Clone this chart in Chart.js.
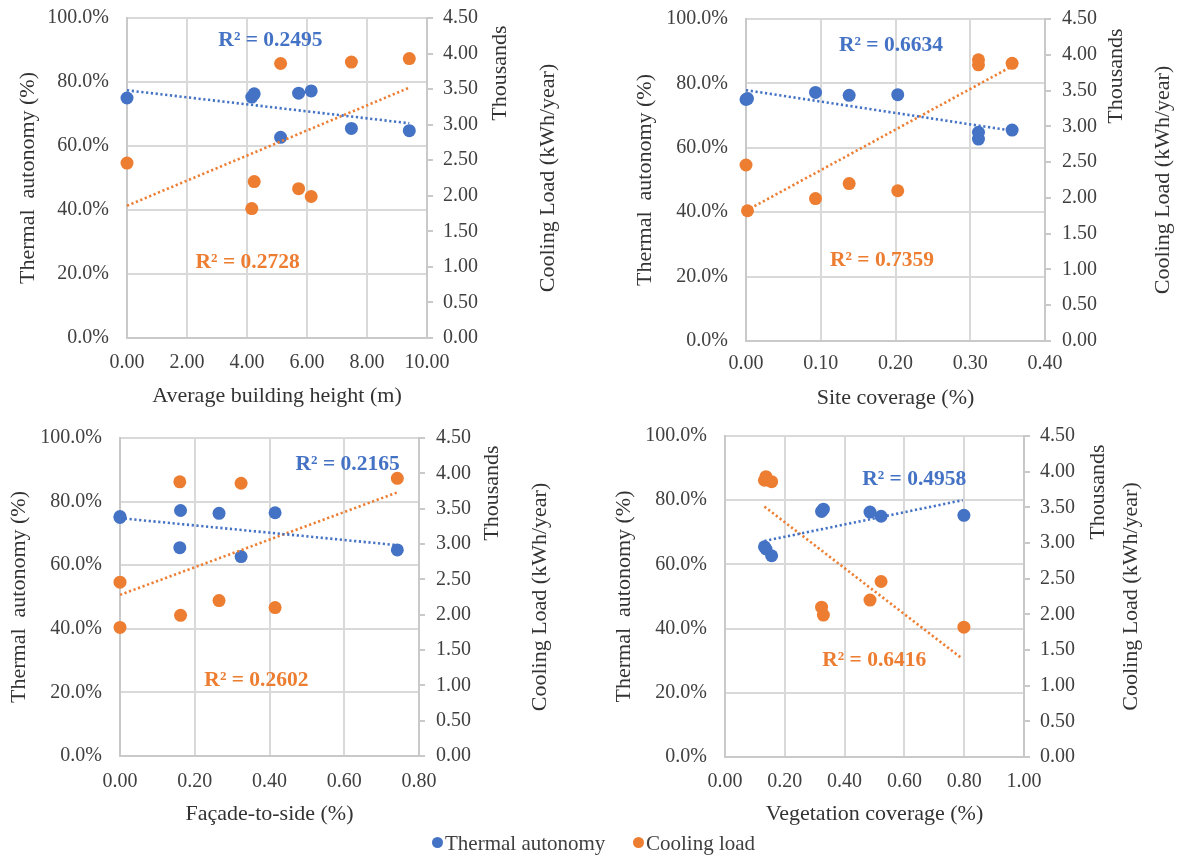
<!DOCTYPE html>
<html><head><meta charset="utf-8">
<script src="https://cdn.jsdelivr.net/npm/chart.js@4.4.1/dist/chart.umd.min.js"></script>
<style>
html,body{margin:0;padding:0;background:#fff;}
#wrap{position:relative;width:1179px;height:856px;overflow:hidden;background:#fff;}
canvas{position:absolute;}
.legtxt{position:absolute;top:830px;font-family:"Liberation Serif","Times New Roman",serif;font-size:21px;line-height:26px;color:#404040;white-space:nowrap;}
.dot{position:absolute;top:837px;width:11px;height:11px;border-radius:50%;}
</style></head><body>
<div id="wrap">
<canvas id="c1" width="590" height="420" style="left:0;top:0"></canvas>
<canvas id="c2" width="589" height="420" style="left:590px;top:0"></canvas>
<canvas id="c3" width="590" height="420" style="left:0;top:420px"></canvas>
<canvas id="c4" width="589" height="420" style="left:590px;top:420px"></canvas>
<div class="dot" style="left:432px;background:#4472C4"></div>
<div class="legtxt" style="left:445px">Thermal autonomy</div>
<div class="dot" style="left:633px;background:#ED7D31"></div>
<div class="legtxt" style="left:646px">Cooling load</div>
</div>
<script>
// ---- data (8 cases) ----
const thermalAutonomy = [75.0, 75.3, 76.3, 62.7, 76.5, 77.2, 65.5, 64.8];       // %
const coolingLoad     = [2460, 1820, 2200, 3860, 2100, 1990, 3880, 3930];       // kWh/year
const buildingHeight     = [0, 4.16, 4.24, 5.12, 5.72, 6.14, 7.48, 9.41];       // m
const siteCoverage       = [0, 0.002, 0.138, 0.311, 0.203, 0.093, 0.356, 0.311];
const facadeToSide       = [0, 0, 0.265, 0.324, 0.415, 0.162, 0.160, 0.742];
const vegetationCoverage = [0.522, 0.799, 0.485, 0.156, 0.323, 0.329, 0.132, 0.137];
const xSeries = [buildingHeight, siteCoverage, facadeToSide, vegetationCoverage];

// trendline end points
const trendThermalX = [[0, 9.41], [0, 0.356], [0, 0.742], [0.132, 0.795]];
const trendThermalY = [[77.4, 67.1], [77.9, 65.3], [74.8, 66.3], [67.3, 80.0]];
const trendCoolingX = [[0, 9.41], [0, 0.356], [0, 0.742], [0.132, 0.790]];
const trendCoolingY = [[1860, 3520], [1820, 3840], [2280, 3730], [3510, 1390]];
const r2Thermal = ['0.2495', '0.6634', '0.2165', '0.4958'];
const r2Cooling = ['0.2728', '0.7359', '0.2602', '0.6416'];

const xTitles = ['Average building height (m)', 'Site coverage (%)', 'Façade-to-side (%)', 'Vegetation coverage (%)'];
const xMax  = [10, 0.4, 0.8, 1.0];
const xStep = [2, 0.1, 0.2, 0.2];
const leftTitle = 'Thermal  autonomy (%)';
const rightTitle = 'Cooling Load (kWh/year)';
const unitLabel = 'Thousands';
const seriesNames = ['Thermal autonomy', 'Cooling load'];

// ---- layout / style ----
const FONT = '"Liberation Serif", "Times New Roman", serif';
const BLUE = '#4472C4', ORANGE = '#ED7D31';
const GRID = '#d9d9d9', AXIS = '#c9c9c9', TICK = '#404040', TITLE = '#333333';
const panels = [
  {id:'c1', w:590, h:420, a:{l:127,r:427,t:18,b:338}, ltx:28, thx:500, thy:73, clx:548, xty:363, xtt:396, rp:10, r2T:[4.78,92.9], r2C:[4.02,23.5]},
  {id:'c2', w:589, h:420, a:{l:156,r:455,t:19,b:341}, ltx:55, thx:526, thy:76, clx:573, xty:364, xtt:398, rp:11, r2T:[0.194,91.7], r2C:[0.182,25.0]},
  {id:'c3', w:590, h:420, a:{l:120,r:419,t:18,b:336}, ltx:19, thx:492, thy:73, clx:540, xty:362, xtt:394, rp:11, r2T:[0.609,91.8], r2C:[0.365,23.8]},
  {id:'c4', w:589, h:420, a:{l:135,r:434,t:16,b:337}, ltx:34, thx:508, thy:72, clx:541, xty:362, xtt:394, rp:10, r2T:[0.633,86.6], r2C:[0.499,30.1]}
];

const extraText = {
  id: 'extraText',
  afterDraw(chart, args, opts) {
    const ctx = chart.ctx, p = opts.panel, i = opts.index;
    const xs = chart.scales.x, ys = chart.scales.y;
    ctx.save();
    ctx.textAlign = 'center'; ctx.textBaseline = 'middle';
    ctx.font = 'bold 21.5px ' + FONT;
    ctx.fillStyle = BLUE;
    ctx.fillText('R² = ' + r2Thermal[i], xs.getPixelForValue(p.r2T[0]), ys.getPixelForValue(p.r2T[1]));
    ctx.fillStyle = ORANGE;
    ctx.fillText('R² = ' + r2Cooling[i], xs.getPixelForValue(p.r2C[0]), ys.getPixelForValue(p.r2C[1]));
    ctx.font = '22px ' + FONT;
    ctx.fillStyle = TITLE;
    ctx.save(); ctx.translate(p.thx, p.thy); ctx.rotate(-Math.PI/2); ctx.fillText(unitLabel, 0, 0); ctx.restore();
    const cy = (chart.chartArea.top + chart.chartArea.bottom) / 2;
    ctx.save(); ctx.translate(p.clx, cy); ctx.rotate(-Math.PI/2); ctx.fillText(rightTitle, 0, 0); ctx.restore();
    ctx.restore();
  }
};

panels.forEach((p, i) => {
  const xs = xSeries[i];
  const ptsT = xs.map((x, k) => ({x: x, y: thermalAutonomy[k]}));
  const ptsC = xs.map((x, k) => ({x: x, y: coolingLoad[k]}));
  const trT = trendThermalX[i].map((x, k) => ({x: x, y: trendThermalY[i][k]}));
  const trC = trendCoolingX[i].map((x, k) => ({x: x, y: trendCoolingY[i][k]}));
  const tickFont = {family: FONT, size: 20};
  const titleFont = {family: FONT, size: 22};
  new Chart(document.getElementById(p.id), {
    type: 'scatter',
    data: {datasets: [
      {type:'line', label:'trendT', data: trT, yAxisID:'y', borderColor: BLUE, borderWidth: 2.6, borderDash:[2.2,2.6], pointRadius:0, fill:false, order:0, clip:false},
      {type:'line', label:'trendC', data: trC, yAxisID:'y1', borderColor: ORANGE, borderWidth: 2.6, borderDash:[2.2,2.6], pointRadius:0, fill:false, order:0, clip:false},
      {label: seriesNames[1], data: ptsC, yAxisID:'y1', backgroundColor: ORANGE, borderColor: ORANGE, borderWidth:0, pointRadius:6.5, order:1, clip:false},
      {label: seriesNames[0], data: ptsT, yAxisID:'y', backgroundColor: BLUE, borderColor: BLUE, borderWidth:0, pointRadius:6.5, order:2, clip:false}
    ]},
    options: {
      responsive: false, animation: false, events: [],
      layout: {padding: {top: p.a.t, left: 0, right: 0, bottom: 0}},
      plugins: {legend: {display:false}, tooltip: {enabled:false}, extraText: {panel: p, index: i}},
      scales: {
        x: {type:'linear', position:'bottom', min:0, max:xMax[i],
            ticks:{stepSize:xStep[i], padding: p.xty - p.a.b - 12, font: tickFont, color: TICK, maxRotation:0, autoSkip:false,
                   callback: v => Number(v).toFixed(2)},
            grid:{color: GRID, lineWidth: 2, drawTicks:false},
            border:{display:true, color: AXIS, width: 2},
            title:{display:true, text: xTitles[i], font: titleFont, color: TITLE, padding:{top:0, bottom: p.h - p.xtt - 13.2}},
            afterFit: s => { s.height = p.h - p.a.b; s.paddingLeft = 0; s.paddingRight = 0; }},
        y: {type:'linear', position:'left', min:0, max:100,
            ticks:{stepSize:20, padding:18, font: tickFont, color: TICK, callback: v => Number(v).toFixed(1) + '%'},
            grid:{color: GRID, lineWidth: 2, drawTicks:false},
            border:{display:true, color: AXIS, width: 2},
            title:{display:true, text: leftTitle, font: titleFont, color: TITLE, padding:{top: p.ltx - 13.2, bottom:0}},
            afterFit: s => { s.width = p.a.l; s.paddingTop = 0; s.paddingBottom = 0; }},
        y1: {type:'linear', position:'right', min:0, max:4500,
            ticks:{stepSize:500, padding: p.rp, font: tickFont, color: TICK, callback: v => (v/1000).toFixed(2)},
            grid:{drawOnChartArea:false, drawTicks:true, tickLength:6, color: AXIS, lineWidth: 2},
            border:{display:true, color: AXIS, width: 2},
            afterFit: s => { s.width = p.w - p.a.r; s.paddingTop = 0; s.paddingBottom = 0; }}
      }
    },
    plugins: [extraText]
  });
});
</script>
</body></html>
